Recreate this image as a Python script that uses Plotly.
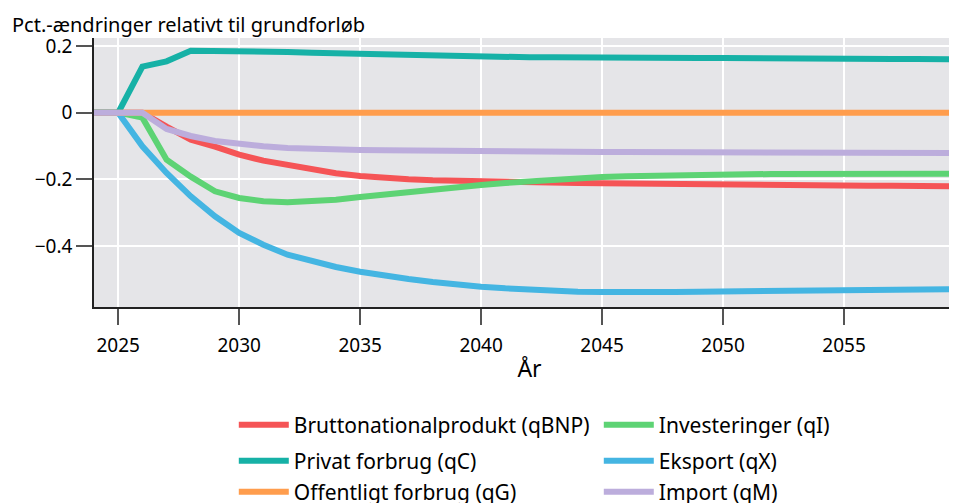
import plotly.graph_objects as go

years = list(range(2024, 2061))

qBNP = [0, 0, 0, -0.042, -0.081, -0.102, -0.126, -0.144, -0.158, -0.171, -0.182, -0.190, -0.196,
        -0.200, -0.203, -0.205, -0.207, -0.208, -0.209, -0.210, -0.211, -0.212, -0.213, -0.214,
        -0.215, -0.215, -0.216, -0.216, -0.217, -0.217, -0.218, -0.218, -0.219, -0.219, -0.220,
        -0.220, -0.221]
qI = [0, 0, -0.015, -0.141, -0.192, -0.236, -0.256, -0.266, -0.269, -0.266, -0.261, -0.253, -0.245,
      -0.238, -0.231, -0.224, -0.217, -0.211, -0.206, -0.201, -0.197, -0.193, -0.191, -0.189,
      -0.187, -0.186, -0.185, -0.185, -0.184, -0.184, -0.184, -0.184, -0.183, -0.183, -0.183,
      -0.183, -0.183]
qC = [0, 0, 0.138, 0.154, 0.186, 0.186, 0.185, 0.184, 0.182, 0.180, 0.178, 0.176, 0.174, 0.172,
      0.170, 0.169, 0.168, 0.167, 0.166, 0.166, 0.165, 0.165, 0.165, 0.164, 0.164, 0.164, 0.164,
      0.163, 0.163, 0.163, 0.162, 0.162, 0.162, 0.161, 0.161, 0.160, 0.160]
qX = [0, 0, -0.101, -0.181, -0.251, -0.311, -0.361, -0.396, -0.426, -0.446, -0.463, -0.477, -0.489,
      -0.499, -0.508, -0.516, -0.522, -0.527, -0.531, -0.535, -0.537, -0.538, -0.539, -0.539,
      -0.538, -0.537, -0.536, -0.535, -0.534, -0.533, -0.533, -0.532, -0.531, -0.531, -0.530,
      -0.530, -0.529]
qG = [0] * 37
qM = [0, 0, 0, -0.049, -0.070, -0.085, -0.095, -0.101, -0.106, -0.109, -0.111, -0.112, -0.113,
      -0.114, -0.115, -0.115, -0.116, -0.116, -0.117, -0.117, -0.117, -0.118, -0.118, -0.118,
      -0.118, -0.119, -0.119, -0.119, -0.119, -0.119, -0.120, -0.120, -0.120, -0.120, -0.120,
      -0.121, -0.121]

series_names = ["Bruttonationalprodukt (qBNP)", "Investeringer (qI)", "Privat forbrug (qC)",
                "Eksport (qX)", "Offentligt forbrug (qG)", "Import (qM)"]
series_values = [qBNP, qI, qC, qX, qG, qM]
series_colors = ["#F55456", "#5DD374", "#16B1A6", "#44B5E2", "#FF9D4D", "#BCADDC"]
legend_rows = ["legend", "legend", "legend2", "legend2", "legend3", "legend3"]

y_title = "Pct.-ændringer relativt til grundforløb"
x_title = "År"
x_ticks = [2025, 2030, 2035, 2040, 2045, 2050, 2055]
y_ticks = [0.2, 0, -0.2, -0.4]
y_ticklabels = ["0.2", "0", "−0.2", "−0.4"]

FONT = "Noto Sans"
PLOT_H = 269.0

fig = go.Figure()
for name, vals, col, lg in zip(series_names, series_values, series_colors, legend_rows):
    fig.add_trace(go.Scatter(x=years, y=vals, mode="lines", name=name, legend=lg,
                             line=dict(color=col, width=6)))

def leg(row_center_px):
    return dict(orientation="h", x=0.1605, xanchor="left",
                y=-(row_center_px - 299) / PLOT_H, yanchor="middle",
                entrywidth=300, entrywidthmode="pixels", font=dict(size=21),
                itemwidth=50, bgcolor="rgba(0,0,0,0)", borderwidth=0)

fig.update_layout(
    width=957, height=503,
    margin=dict(l=86, r=0, t=30, b=204, autoexpand=False),
    plot_bgcolor="#E5E5E8",
    paper_bgcolor="white",
    font=dict(family=FONT, size=19, color="black"),
    showlegend=True,
    legend=leg(417), legend2=leg(453), legend3=leg(484),
    annotations=[dict(text=y_title, xref="paper", yref="paper", x=-0.0964, y=1,
                      xanchor="left", yanchor="bottom", showarrow=False,
                      font=dict(size=20), yshift=-2)],
)
fig.update_xaxes(range=[2024, 2060], tickvals=x_ticks,
                 showgrid=True, gridcolor="white", gridwidth=1.5,
                 showline=True, linecolor="#222", linewidth=1.5,
                 ticks="outside", ticklen=16, tickcolor="#555", tickwidth=1.5,
                 ticklabelstandoff=4,
                 title=dict(text=x_title, standoff=4), zeroline=False)
fig.update_yaxes(range=[-0.583, 0.224], tickvals=y_ticks, ticktext=y_ticklabels,
                 showgrid=True, gridcolor="white", gridwidth=1.5,
                 showline=True, linecolor="#222", linewidth=1.5,
                 ticks="outside", ticklen=16, tickcolor="#555", tickwidth=1.5,
                 zeroline=False)

fig.write_html("out.html")
